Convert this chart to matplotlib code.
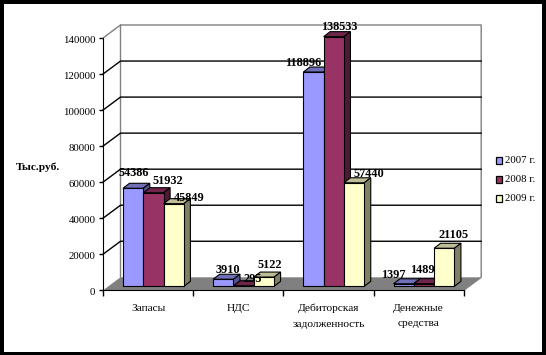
import matplotlib
matplotlib.use('Agg')
import matplotlib.pyplot as plt
from matplotlib.patches import Polygon, Rectangle
from matplotlib.transforms import ScaledTranslation

plt.rcParams['font.family'] = ['Liberation Serif', 'DejaVu Serif']

categories = ['Запасы', 'НДС', 'Дебиторская\nзадолженность', 'Денежные\nсредства']
years = ['2007 г.', '2008 г.', '2009 г.']
v2007 = [54386, 3910, 118896, 1397]
v2008 = [51932, 295, 138533, 1489]
v2009 = [45849, 5122, 57440, 21105]
yticks = [0, 20000, 40000, 60000, 80000, 100000, 120000, 140000]

front = ['#9999FF', '#993366', '#FFFFCC']
top = ['#6F6FB8', '#6E2549', '#BDBD97']
side = ['#55558F', '#4F1A35', '#808066']

W, H = 546, 355
fig = plt.figure(figsize=(W / 100, H / 100), dpi=100)
fig.patch.set_facecolor('white')
# black frame round the picture
for x0, y0, w, h in [(0, 0, 4, H), (W - 4, 0, 4, H), (0, 0, W, 4), (0, H - 3, W, 3)]:
    fig.add_artist(Rectangle((x0 / W, 1 - (y0 + h) / H), w / W, h / H, transform=fig.transFigure, fc='black', ec='none'))

# axes = front plane of the fake 3d box
left, right, y0, y1 = 103.0, 463.7, 290.3, 38.0
ax = fig.add_axes([left / W, 1 - y0 / H, (right - left) / W, (y0 - y1) / H])
ax.set_xlim(0, 4)
ax.set_ylim(0, 140000)
ax.patch.set_visible(False)
ax.spines['top'].set_visible(False)
ax.spines['right'].set_visible(False)

px = 4 / (right - left)
py = 140000 / (y0 - y1)
dx, dy = 17.5 * px, 13 * py  # box depth
bdx, bdy = 6.5 * px, 5 * py  # bar depth
base = 4 * py  # bars stand a little behind the front edge
bw = 20.3 * px
start = 20 * px


def poly(pts, fc, ec='none', lw=0.8, z=1):
    ax.add_patch(Polygon(pts, closed=True, fc=fc, ec=ec, lw=lw, zorder=z, clip_on=False))


# floor and walls
poly([(0, 0), (4, 0), (4 + dx, dy), (dx, dy)], '#808080', z=1)
ax.plot([dx, dx, 4 + dx, 4 + dx, 4], [dy, 140000 + dy, 140000 + dy, dy, 0], color='#808080', lw=1.0, clip_on=False, zorder=2)
ax.plot([0, dx], [140000, 140000 + dy], color='#808080', lw=1.0, clip_on=False, zorder=2)
for t in yticks[1:-1]:
    ax.plot([0, dx, 4 + dx], [t, t + dy, t + dy], color='black', lw=1.0, clip_on=False, zorder=2)

# bars
series = [v2007, v2008, v2009]
for c in range(4):
    for s in range(3):
        v = series[s][c]
        x0 = c + start + s * bw
        x1 = x0 + bw
        b = base
        t = base + v
        poly([(x0, t), (x1, t), (x1 + bdx, t + bdy), (x0 + bdx, t + bdy)], top[s], 'black', z=3 + s)
        poly([(x1, b), (x1 + bdx, b + bdy), (x1 + bdx, t + bdy), (x1, t)], side[s], 'black', z=3 + s)
        poly([(x0, b), (x1, b), (x1, t), (x0, t)], front[s], 'black', z=3 + s)

# data labels, offsets in pixels from the top of each bar
label_off = [
    [(0.5, 15.4), (14, 11.8), (15, 5.8)],
    [(5, 9.6), (9, 7), (5.7, 12.4)],
    [(-10, 9), (5.5, 9.6), (14.5, 8.9)],
    [(-10.8, 8.5), (-2, 13.3), (9.6, 13)],
]
for c in range(4):
    for s in range(3):
        v = series[s][c]
        xc = c + start + (s + 0.5) * bw
        ox, oy = label_off[c][s]
        ax.annotate(str(v), (xc, base + v), xytext=(ox * 0.72, oy * 0.72), textcoords='offset points',
                    ha='center', va='center', fontsize=8.8, fontweight='bold', zorder=10, annotation_clip=False)

ax.set_yticks(yticks)
ax.set_yticklabels([str(t) for t in yticks], fontsize=7.8)
ax.set_xticks([0, 1, 2, 3, 4])
ax.set_xticklabels([])
ax.tick_params(axis='both', direction='out', length=3, width=1, color='black', pad=2.5)
ax.tick_params(axis='x', direction='out', length=4)
# tick_params resets the label transform, so shift the labels after it
for lab in ax.get_yticklabels():
    lab.set_transform(lab.get_transform() + ScaledTranslation(0, -1.5 / 100, fig.dpi_scale_trans))
for c, name in enumerate(categories):
    ax.text(c + 0.5, -7500, name, ha='center', va='top', fontsize=8.2, linespacing=1.95, clip_on=False)

fig.text(16 / W, 1 - 167 / H, 'Тыс.руб.', fontsize=8.2, fontweight='bold', va='center', ha='left')

# legend
for s, y in enumerate([160.5, 179.5, 198.5]):
    fig.add_artist(Rectangle((495.5 / W, 1 - (y + 3) / H), 6.5 / W, 6.5 / H, transform=fig.transFigure,
                             fc=front[s], ec='black', lw=0.9))
    fig.text(505 / W, 1 - y / H, years[s], fontsize=7.8, va='center', ha='left')

fig.savefig('out.png', dpi=100)
